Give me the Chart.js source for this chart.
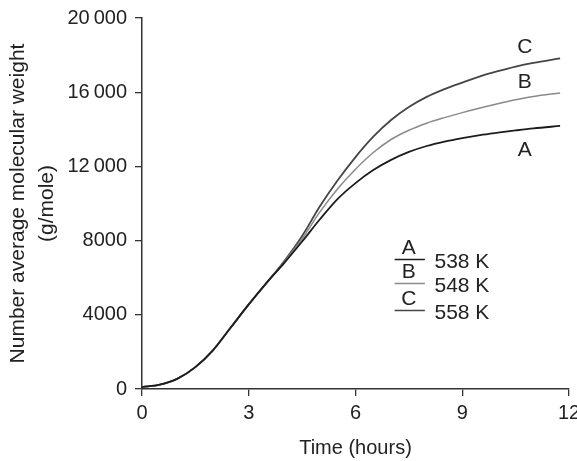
<!DOCTYPE html>
<html>
<head>
<meta charset="utf-8">
<script src="https://cdn.jsdelivr.net/npm/chart.js@4.4.1/dist/chart.umd.min.js"></script>
<style>
  html, body { margin: 0; padding: 0; background: #fff; }
  #wrap { width: 577px; height: 461px; }
</style>
</head>
<body>
<div id="wrap"><canvas id="mwChart" width="577" height="461"></canvas></div>
<script>
// ===================== data =====================
var timeHours = [0, 0.5, 1, 1.5, 2, 2.5, 3, 3.5, 4, 4.5, 5, 5.5, 6, 6.5, 7, 7.5, 8, 8.5, 9, 9.5, 10, 10.5, 11, 11.75];
var seriesA = [100, 230, 560, 1180, 2100, 3330, 4560, 5720, 6800, 7950, 9150, 10250, 11100, 11800, 12350, 12780, 13100, 13340, 13530, 13690, 13820, 13940, 14050, 14180];
var seriesB = [100, 230, 560, 1180, 2100, 3330, 4560, 5720, 6850, 8100, 9550, 10800, 11850, 12750, 13450, 13950, 14330, 14630, 14900, 15150, 15380, 15590, 15770, 15960];
var seriesC = [100, 230, 560, 1180, 2100, 3330, 4560, 5720, 6900, 8250, 9850, 11250, 12500, 13600, 14500, 15200, 15750, 16170, 16520, 16850, 17130, 17380, 17580, 17820];
var seriesNames = ['A', 'B', 'C'];
var tempLabels = ['538 K', '548 K', '558 K'];
var xTicks = [0, 3, 6, 9, 12];
var yTicks = [0, 4000, 8000, 12000, 16000, 20000];

var lineColors = ['#1c1c1c', '#8a8a8a', '#454545'];
var FONT = '"Liberation Sans", Arial, sans-serif';

function toXY(arr) {
  return timeHours.map((t, i) => ({ x: t, y: arr[i] }));
}

function fmt(v) {
  // big numbers get a thin space as thousands separator
  if (v >= 10000) {
    var s = String(v);
    return s.slice(0, s.length - 3) + '\u2009' + s.slice(-3);
  }
  return String(v);
}

// ===================== labels on the curves + small key =====================
const annotate = {
  id: 'annotate',
  afterDraw(chart) {
    const ctx = chart.ctx;
    const xs = chart.scales.x, ys = chart.scales.y;
    const px = v => xs.getPixelForValue(v);
    const py = v => ys.getPixelForValue(v);
    ctx.save();
    ctx.font = '21px ' + FONT;
    ctx.fillStyle = '#222';
    ctx.textBaseline = 'middle';
    ctx.textAlign = 'center';
    // curve end labels
    ctx.fillText('C', px(10.76), py(18450));
    ctx.fillText('B', px(10.76), py(16550));
    ctx.fillText('A', px(10.76), py(12900));

    // key: letter over a short line, temperature to the right
    var keyY = [7600, 6300, 4850];
    for (var i = 0; i < 3; i++) {
      ctx.textAlign = 'center';
      ctx.fillStyle = '#222';
      ctx.fillText(seriesNames[i], px(7.5), py(keyY[i]));
      ctx.beginPath();
      ctx.strokeStyle = lineColors[i];
      ctx.lineWidth = 1.5;
      var ly = Math.round(py(keyY[i] - 600)) + 0.5;
      ctx.moveTo(px(7.1), ly);
      ctx.lineTo(px(7.95), ly);
      ctx.stroke();
      ctx.textAlign = 'left';
      ctx.fillText(tempLabels[i], px(8.22), py(keyY[i] - 750));
    }
    ctx.restore();
  }
};

// ===================== chart =====================
var ctx = document.getElementById('mwChart').getContext('2d');

const mwChart = new Chart(ctx, {
  type: 'line',
  data: {
    datasets: [
      { label: 'A', data: toXY(seriesA), borderColor: lineColors[0], borderWidth: 1.8 },
      { label: 'B', data: toXY(seriesB), borderColor: lineColors[1], borderWidth: 1.5 },
      { label: 'C', data: toXY(seriesC), borderColor: lineColors[2], borderWidth: 1.8 }
    ]
  },
  options: {
    responsive: false,
    animation: false,
    devicePixelRatio: 1,
    layout: { padding: { top: 18, right: 8, bottom: 0, left: 0 } },
    elements: {
      point: { radius: 0 },
      line: { cubicInterpolationMode: 'monotone', fill: false }
    },
    plugins: {
      legend: { display: false },
      tooltip: { enabled: false }
    },
    scales: {
      x: {
        type: 'linear',
        min: 0, max: 12,
        afterBuildTicks: s => { s.ticks = xTicks.map(v => ({ value: v })); },
        afterFit: s => { s.height = 72; s.paddingLeft = 0; s.paddingRight = 0; },
        grid: { drawOnChartArea: false, drawTicks: true, tickLength: 7, color: '#333', lineWidth: 1.3 },
        border: { display: true, color: '#333', width: 1.5 },
        ticks: { color: '#222', padding: 5, maxRotation: 0, font: { family: FONT, size: 20 } },
        title: { display: true, text: 'Time (hours)', color: '#222', padding: { top: 0, bottom: 1 },
                 font: { family: FONT, size: 20, lineHeight: 1.2 } }
      },
      y: {
        type: 'linear',
        min: 0, max: 20000,
        afterBuildTicks: s => { s.ticks = yTicks.map(v => ({ value: v })); },
        afterFit: s => { s.width = 142; s.paddingTop = 0; s.paddingBottom = 0; },
        grid: { drawOnChartArea: false, drawTicks: true, tickLength: 7, color: '#333', lineWidth: 1.3 },
        border: { display: true, color: '#333', width: 1.5 },
        ticks: { color: '#222', padding: 8, callback: v => fmt(v), font: { family: FONT, size: 20 } },
        title: { display: true, text: ['Number average molecular weight', '(g/mole)'], color: '#222',
                 padding: { top: 4, bottom: 0 }, font: { family: FONT, size: 21, lineHeight: 1.38 } }
      }
    }
  },
  plugins: [annotate]
});
</script>
</body>
</html>
